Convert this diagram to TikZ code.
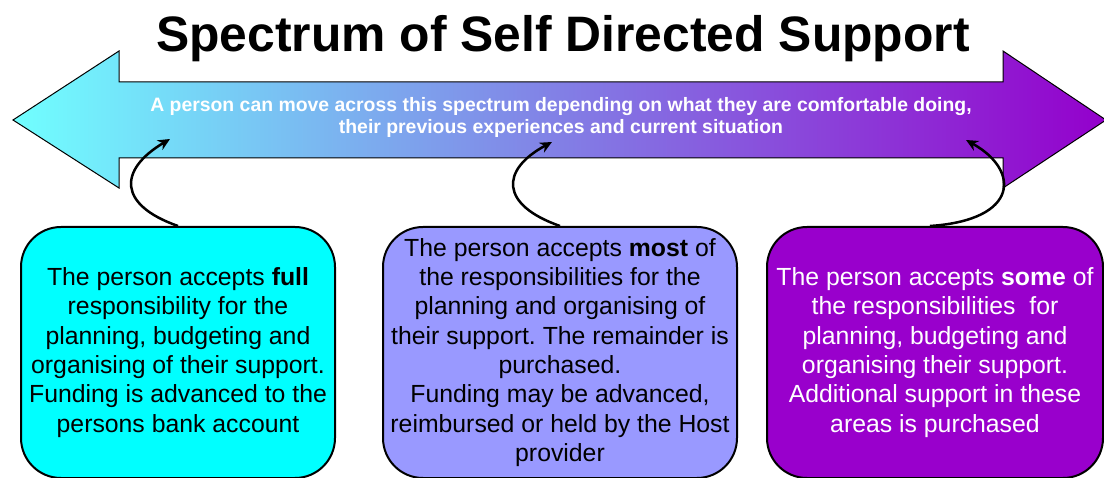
\documentclass[tikz,border=0pt]{standalone}
\usepackage{fontspec}
\setmainfont{Liberation Sans}
\usetikzlibrary{arrows.meta}
\frenchspacing
\definecolor{leftc}{HTML}{70FFFF}
\definecolor{rightc}{HTML}{9400CC}
\definecolor{boxa}{HTML}{00FFFF}
\definecolor{boxb}{HTML}{9999FF}
\definecolor{boxc}{HTML}{9900CC}
\tikzset{
  infobox/.style={draw=black, line width=2pt, rounded corners=40pt, align=center,
    font=\fontsize{24.8}{29.3}\selectfont\frenchspacing, inner sep=0pt},
  curvy/.style={line width=2.5pt, -{Stealth[length=12pt,width=11pt]}},
}
\begin{document}
\begin{tikzpicture}[x=1pt,y=-1pt]
\useasboundingbox (0,0) rectangle (1104,478);
% big double arrow
\path[left color=leftc, right color=rightc, draw=black, line width=1pt]
  (13,120) -- (119,51) -- (119,82) -- (1003,82) -- (1003,51) -- (1106,120)
  -- (1003,188) -- (1003,158) -- (119,158) -- (119,188) -- cycle;
\node[font=\fontsize{49.8}{55}\selectfont\bfseries, anchor=base] (title) at (563,52) {Spectrum of Self Directed Support};
\node[font=\fontsize{19.4}{22}\selectfont\bfseries, text=white, align=center] (sub) at (561,117)
  {A person can move across this spectrum depending on what they are comfortable doing,\\their previous experiences and current situation};
% boxes
\node[infobox, fill=boxa, minimum width=314pt, minimum height=251pt] (b1) at (178,352.5)
  {The person accepts \textbf{full}\\responsibility for the\\planning, budgeting and\\organising of their support.\\Funding is advanced to the\\persons bank account};
\node[infobox, fill=boxb, minimum width=354pt, minimum height=251pt] (b2) at (560,352.5)
  {The person accepts \textbf{most} of\\the responsibilities for the\\planning and organising of\\their support. The remainder is\\purchased.\\Funding may be advanced,\\reimbursed or held by the Host\\provider};
\node[infobox, fill=boxc, text=white, minimum width=336pt, minimum height=251pt] (b3) at (935,352.5)
  {The person accepts \textbf{some} of\\the responsibilities\ \ for\\planning, budgeting and\\organising their support.\\Additional support in these\\areas is purchased};
% curved arrows
\coordinate (t1) at (170,139);
\coordinate (t2) at (552,142);
\coordinate (t3) at (966,140);
\draw[curvy] (b1.north) .. controls (118,205) and (118,170) .. (t1);
\draw[curvy] (b2.north) .. controls (500,205) and (500,170) .. (t2);
\draw[curvy] ([xshift=-5pt]b3.north) .. controls (1020,220) and (1020,170) .. (t3);
\end{tikzpicture}
\end{document}
